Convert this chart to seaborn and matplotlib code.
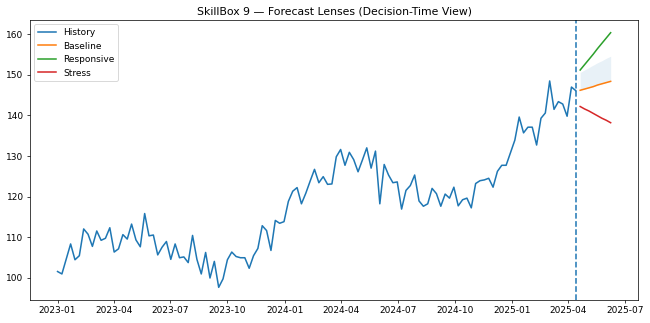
import matplotlib
matplotlib.use("Agg")
import matplotlib.pyplot as plt
import seaborn as sns
import pandas as pd

# weekly history
history = [
    101.5, 100.9, 104.6, 108.3, 104.4, 105.4, 112.0, 110.7, 107.7, 111.5,
    109.2, 109.7, 112.3, 106.3, 107.1, 110.6, 109.5, 113.2, 109.3, 107.6,
    115.8, 110.3, 110.5, 105.6, 107.5, 108.9, 104.5, 108.3, 104.9, 105.1,
    103.7, 110.4, 104.5, 100.9, 106.2, 99.9, 104.0, 97.6, 99.7, 104.4,
    106.3, 105.2, 104.9, 104.9, 102.3, 105.4, 107.2, 112.8, 111.6, 106.7,
    114.1, 113.4, 113.8, 118.8, 121.3, 122.2, 118.2, 120.8, 123.8, 126.7,
    123.4, 124.9, 123.0, 123.1, 129.8, 131.6, 127.7, 130.9, 129.1, 126.1,
    129.0, 132.0, 127.0, 131.2, 118.2, 127.9, 125.3, 123.4, 123.6, 116.9,
    121.5, 122.7, 125.3, 118.9, 117.6, 118.2, 122.0, 120.7, 117.6, 120.6,
    119.6, 122.3, 117.7, 119.2, 119.6, 117.2, 123.2, 123.9, 124.1, 124.5,
    122.3, 126.2, 127.7, 127.7, 130.8, 133.9, 139.6, 135.7, 137.1, 137.1,
    132.7, 139.3, 140.6, 148.5, 141.5, 143.4, 142.8, 139.8, 147.0, 146.1,
]
hist_dates = pd.date_range("2023-01-01", periods=len(history), freq="7D")

fc_dates = pd.date_range("2025-04-20", periods=8, freq="7D")
baseline = [146.2, 146.5, 146.8, 147.1, 147.5, 147.8, 148.1, 148.4]
responsive = [151.2, 152.5, 153.8, 155.1, 156.5, 157.8, 159.1, 160.4]
stress = [142.2, 141.6, 141.1, 140.5, 139.9, 139.3, 138.8, 138.2]
band_upper = [150.6, 151.2, 151.8, 152.4, 153.0, 153.5, 154.1, 154.6]

decision_date = hist_dates[-1]

fig, ax = plt.subplots(figsize=(10, 4.97), dpi=65)
sns.lineplot(x=hist_dates, y=history, ax=ax, label="History", color="C0", linewidth=1.7)
sns.lineplot(x=fc_dates, y=baseline, ax=ax, label="Baseline", color="C1", linewidth=1.7)
sns.lineplot(x=fc_dates, y=responsive, ax=ax, label="Responsive", color="C2", linewidth=1.7)
sns.lineplot(x=fc_dates, y=stress, ax=ax, label="Stress", color="C3", linewidth=1.7)
ax.fill_between(fc_dates, baseline, band_upper, color="C0", alpha=0.1, linewidth=0)
ax.axvline(decision_date, color="C0", linestyle="--", linewidth=1.7)

ax.set_title("SkillBox 9 — Forecast Lenses (Decision-Time View)", fontsize=12)
ax.set_xlabel("")
ax.legend(loc="upper left")
plt.subplots_adjust(left=0.046, right=0.982, top=0.938, bottom=0.071)
plt.savefig("out.png", dpi=65)
